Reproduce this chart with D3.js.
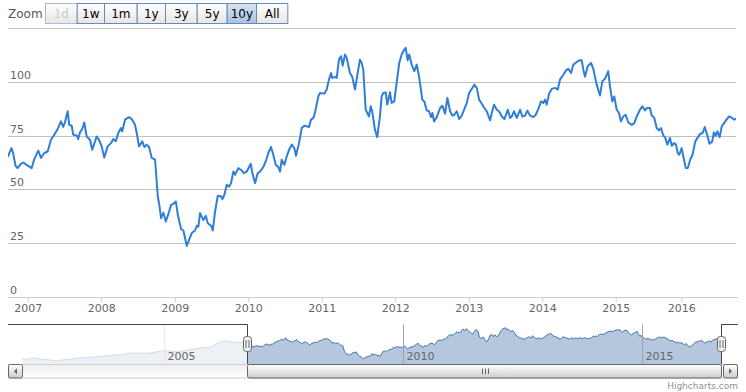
<!DOCTYPE html>
<html><head><meta charset="utf-8">
<script src="https://cdn.jsdelivr.net/npm/d3@7"></script>
<style>
body{margin:0;background:#fff}
svg{display:block;font-family:"DejaVu Sans",Verdana,Arial,sans-serif}
</style>
</head><body>
<svg id="chart" width="746" height="392"></svg>
<script>
// ---------------- DATA ----------------
const rangeButtons = ["1d","1w","1m","1y","3y","5y","10y","All"];
const selectedButton = "10y";
const disabledButtons = ["1d"];
const yTicks = [0,25,50,75,100,125];
const xTickYears = [2007,2008,2009,2010,2011,2012,2013,2014,2015,2016];
const navTickYears = [2005,2010,2015];

// main (selected 10y) series: decimal years and values
const dates = [
2006.736,2006.782,2006.804,2006.837,2006.864,2006.909,2006.940,2006.986,2007.054,2007.090,
2007.144,2007.181,2007.226,2007.272,2007.317,2007.362,2007.408,2007.453,2007.484,2007.507,
2007.544,2007.566,2007.599,2007.620,2007.667,2007.688,2007.712,2007.743,2007.770,2007.803,
2007.848,2007.879,2007.939,2007.974,2008.007,2008.042,2008.088,2008.133,2008.165,2008.197,
2008.233,2008.269,2008.287,2008.324,2008.378,2008.415,2008.460,2008.483,2008.514,2008.559,
2008.586,2008.619,2008.650,2008.687,2008.732,2008.769,2008.786,2008.814,2008.845,2008.878,
2008.913,2008.950,2008.981,2009.014,2009.041,2009.086,2009.117,2009.163,2009.194,2009.231,
2009.276,2009.299,2009.321,2009.344,2009.389,2009.422,2009.449,2009.494,2009.517,2009.548,
2009.585,2009.630,2009.648,2009.675,2009.707,2009.739,2009.766,2009.797,2009.820,2009.865,
2009.912,2009.939,2009.980,2010.034,2010.056,2010.093,2010.129,2010.161,2010.205,2010.238,
2010.273,2010.310,2010.341,2010.374,2010.410,2010.433,2010.456,2010.491,2010.524,2010.555,
2010.592,2010.627,2010.650,2010.691,2010.728,2010.763,2010.796,2010.827,2010.854,2010.886,
2010.909,2010.954,2010.977,2011.035,2011.068,2011.099,2011.127,2011.144,2011.181,2011.204,
2011.235,2011.263,2011.286,2011.317,2011.340,2011.385,2011.416,2011.453,2011.498,2011.521,
2011.544,2011.566,2011.599,2011.644,2011.667,2011.688,2011.725,2011.756,2011.793,2011.816,
2011.838,2011.871,2011.893,2011.929,2011.952,2011.988,2012.020,2012.056,2012.088,2012.124,
2012.143,2012.170,2012.191,2012.224,2012.260,2012.293,2012.324,2012.369,2012.396,2012.429,
2012.460,2012.488,2012.505,2012.528,2012.565,2012.610,2012.641,2012.678,2012.709,2012.746,
2012.777,2012.804,2012.837,2012.868,2012.905,2012.940,2012.973,2013.004,2013.041,2013.076,
2013.109,2013.140,2013.177,2013.212,2013.245,2013.290,2013.313,2013.344,2013.381,2013.412,
2013.449,2013.484,2013.531,2013.562,2013.585,2013.616,2013.653,2013.698,2013.729,2013.766,
2013.797,2013.834,2013.879,2013.912,2013.947,2013.984,2014.015,2014.038,2014.061,2014.093,
2014.129,2014.174,2014.211,2014.242,2014.287,2014.324,2014.355,2014.392,2014.423,2014.456,
2014.483,2014.514,2014.537,2014.559,2014.582,2014.619,2014.664,2014.695,2014.741,2014.786,
2014.818,2014.854,2014.899,2014.922,2014.954,2014.981,2015.015,2015.050,2015.081,2015.116,
2015.152,2015.192,2015.244,2015.284,2015.320,2015.370,2015.405,2015.447,2015.473,2015.523,
2015.549,2015.588,2015.625,2015.660,2015.691,2015.726,2015.752,2015.787,2015.828,2015.854,
2015.889,2015.919,2015.945,2015.970,2016.006,2016.030,2016.067,2016.098,2016.133,2016.168,
2016.209,2016.250,2016.285,2016.320,2016.351,2016.387,2016.422,2016.463,2016.488,2016.514,
2016.540,2016.575,2016.605,2016.640,2016.677,2016.716,2016.758,2016.793,2016.819
];
const values = [
65.3,69.2,66.9,61.0,59.9,61.9,62.5,61.4,59.9,64.1,
68.0,64.6,66.9,67.6,73.1,75.4,78.1,81.6,79.0,81.1,
86.3,80.0,79.6,75.4,75.1,73.4,76.5,78.1,81.1,74.6,
73.1,68.4,74.6,72.8,70.0,64.8,70.0,71.5,73.4,72.3,
76.2,78.5,77.0,82.4,83.6,82.7,80.0,76.2,70.0,72.3,
69.7,70.8,69.7,64.6,63.8,46.7,43.6,36.6,39.2,35.1,
38.6,42.8,43.3,44.4,38.2,31.5,30.9,23.7,26.5,29.7,
30.9,33.1,32.7,39.0,35.8,37.7,34.3,33.1,30.9,39.7,
47.0,46.7,45.5,47.5,52.1,51.3,52.9,58.3,56.8,59.9,
58.8,57.6,58.3,61.9,57.6,52.9,57.6,58.3,60.4,63.0,
66.9,69.7,66.1,61.4,60.4,58.3,63.8,61.4,65.3,68.4,
70.8,69.2,65.6,71.5,78.5,79.6,79.3,79.0,82.4,83.2,
85.8,93.2,94.8,94.5,96.4,101.0,104.1,101.8,102.3,101.8,
110.3,111.9,107.5,112.7,111.1,104.1,102.3,96.4,105.7,110.3,
108.8,105.7,87.0,83.9,88.6,86.3,77.7,74.3,83.9,93.2,
94.8,95.1,89.4,95.1,90.2,90.9,99.5,108.8,112.7,115.0,
115.8,110.0,112.7,108.0,104.9,108.0,102.6,91.7,90.9,86.7,
86.3,83.6,85.5,81.6,83.6,87.8,88.9,85.2,92.5,86.3,
84.3,84.7,86.3,82.7,84.3,87.4,90.2,94.8,96.7,98.7,
97.2,91.7,89.8,87.8,86.3,82.1,85.5,89.4,87.0,86.3,
83.9,82.7,87.0,83.2,83.9,86.3,83.2,87.0,83.9,84.3,
86.6,84.3,83.6,84.7,87.4,90.9,90.2,91.7,89.4,94.5,
96.7,97.2,96.4,101.0,103.3,105.3,106.0,104.1,108.0,108.8,
109.6,110.0,110.0,105.7,102.3,107.2,108.8,106.0,98.7,93.6,
100.3,101.4,104.9,97.9,90.9,93.2,87.0,85.5,81.6,83.9,
84.7,81.1,80.0,80.8,83.9,87.0,88.6,86.7,87.8,87.8,
84.3,83.2,78.5,77.4,78.5,74.9,74.3,70.8,73.9,70.3,
71.5,70.8,66.9,66.1,69.2,65.3,59.9,59.9,63.8,66.1,
72.3,74.3,75.9,76.2,79.0,75.4,71.2,72.3,76.5,74.9,
77.0,74.3,79.3,80.8,82.4,83.9,83.2,82.4,82.7
];

// earlier history, only visible in the navigator
const historyDates = [2002.02,2002.13,2002.26,2002.47,2002.75,2002.96,2003.24,2003.52,2003.80,2004.08,
  2004.36,2004.64,2004.92,2005.06,2005.27,2005.47,2005.75,2005.96,2006.17,2006.31,2006.45,2006.59];
const historyValues = [24.6,22.5,26.7,22.5,18.6,22.5,26.7,29.6,32.6,36.5,
  41.5,40.3,46.3,48.4,44.5,49.2,56.4,58.2,74.2,78.1,72.1,74.2];

// ---------------- LAYOUT ----------------
const plot = {left:8, right:736, top:28, bottom:297};
const xAnchorYears = [2007, 2015, 2016];       // ordinal-axis anchors
const xAnchorPx = [27.7, 615.7, 681.3];
const nav = {left:22, right:722, top:324.5, bottom:364};
const navAnchorYear = 2015, navAnchorPx = 642;
const scroll = {left:8, right:738, top:364.5, height:13.5, btn:14};
const buttonEdges = [45,76.7,104,136.7,165,196.7,226.7,256,287.3];

const toDate = t => {
  const y = Math.floor(t), s = Date.UTC(y,0,1), e = Date.UTC(y+1,0,1);
  return new Date(s + (t - y) * (e - s));
};
const yearDate = y => new Date(Date.UTC(y,0,1));

const svg = d3.select("#chart");
const defs = svg.append("defs");
function vgrad(id, stops){
  const g = defs.append("linearGradient").attr("id",id).attr("x1",0).attr("y1",0).attr("x2",0).attr("y2",1);
  stops.forEach(([o,c])=>g.append("stop").attr("offset",o).attr("stop-color",c));
}
vgrad("btnGrad",[[0,"#ffffff"],[1,"#e6e6e6"]]);
vgrad("btnSel",[[0,"#d8e4f4"],[1,"#a9c1e4"]]);
vgrad("trackGrad",[[0,"#eeeeee"],[1,"#ffffff"]]);
vgrad("barGrad",[[0,"#ffffff"],[1,"#cccccc"]]);

// ---------------- SCALES ----------------
const mainData = dates.map((t,i)=>({d:toDate(t), v:values[i]}));
const historyData = historyDates.map((t,i)=>({d:toDate(t), v:historyValues[i]}));
const allData = historyData.concat(mainData);

const x = d3.scaleUtc()
  .domain([mainData[0].d, ...xAnchorYears.map(yearDate), mainData[mainData.length-1].d])
  .range([plot.left, ...xAnchorPx, plot.right]);
const y = d3.scaleLinear().domain([0,125]).range([plot.bottom, plot.top]);

// ---------------- RANGE SELECTOR ----------------
svg.append("text").attr("x",8).attr("y",18).attr("font-size",12).attr("fill","#555").text("Zoom");
rangeButtons.forEach((b,i)=>{
  const x0 = buttonEdges[i], x1 = buttonEdges[i+1];
  const sel = b === selectedButton, dis = disabledButtons.includes(b);
  svg.append("rect").attr("x",x0+0.5).attr("y",3.5).attr("width",x1-x0).attr("height",20)
    .attr("fill", sel ? "url(#btnSel)" : "url(#btnGrad)").attr("stroke", dis ? "#a8bbd8" : "#6a89b6").attr("stroke-width",1);
  svg.append("text").attr("x",(x0+x1)/2+0.5).attr("y",18).attr("text-anchor","middle")
    .attr("font-size",12).attr("fill", dis ? "#cccccc" : "#000").text(b);
});

// ---------------- MAIN PLOT ----------------
const grid = svg.append("g");
yTicks.filter(v=>v>0).forEach(v=>{
  grid.append("line").attr("x1",plot.left).attr("x2",plot.right)
    .attr("y1",Math.round(y(v))+0.5).attr("y2",Math.round(y(v))+0.5)
    .attr("stroke","#C0C0C0").attr("stroke-width",1);
});
yTicks.filter(v=>v<125).forEach(v=>{
  svg.append("text").attr("x",10).attr("y",y(v)-3).attr("font-size",11).attr("fill","#666").text(v);
});

const xAxis = svg.append("g").attr("transform",`translate(0,${Math.round(plot.bottom)+0.5})`)
  .call(d3.axisBottom(x).tickValues(xTickYears.map(yearDate)).tickFormat(d3.utcFormat("%Y"))
    .tickSizeInner(5).tickSizeOuter(0).tickPadding(2));
xAxis.select(".domain").attr("stroke","#C0D0E0").attr("d",`M${plot.left},0H${plot.right+2}`);
xAxis.selectAll(".tick line").attr("stroke","#C0D0E0");
xAxis.selectAll(".tick text").attr("fill","#666").attr("font-size",11).attr("font-family","DejaVu Sans, Verdana, sans-serif");

defs.append("clipPath").attr("id","plotClip").append("rect")
  .attr("x",plot.left).attr("y",plot.top-5).attr("width",plot.right-plot.left).attr("height",plot.bottom-plot.top+5);
svg.append("path").datum(mainData).attr("clip-path","url(#plotClip)")
  .attr("fill","none").attr("stroke","#2f7ed8").attr("stroke-width",2)
  .attr("stroke-linejoin","round").attr("stroke-linecap","round")
  .attr("d", d3.line().x(d=>x(d.d)).y(d=>y(d.v)));

// ---------------- NAVIGATOR ----------------
const nx = d3.scaleUtc()
  .domain([allData[0].d, yearDate(navAnchorYear), allData[allData.length-1].d])
  .range([nav.left, navAnchorPx, nav.right]);
const vmin = d3.min(allData,d=>d.v), vmax = d3.max(allData,d=>d.v), pad = (vmax-vmin)*0.1;
const ny = d3.scaleLinear().domain([vmin-pad, vmax+pad]).range([nav.bottom, nav.top]);

const navG = svg.append("g");
navG.append("path").datum(allData).attr("fill","#4572A7").attr("fill-opacity",0.4)
  .attr("d", d3.area().x(d=>nx(d.d)).y0(nav.bottom).y1(d=>ny(d.v)));
navG.append("path").datum(allData).attr("fill","none").attr("stroke","#4572A7").attr("stroke-width",1)
  .attr("d", d3.line().x(d=>nx(d.d)).y(d=>ny(d.v)));
navTickYears.forEach(yr=>{
  const px = Math.round(nx(yearDate(yr)))+0.5;
  navG.append("line").attr("x1",px).attr("x2",px).attr("y1",nav.top).attr("y2",nav.bottom)
    .attr("stroke","#9aa5b3").attr("stroke-width",1);
});
const hL = Math.round(nx(mainData[0].d))+0.5, hR = Math.round(nx(mainData[mainData.length-1].d))-0.5;
// mask over unselected range
navG.append("rect").attr("x",nav.left-1).attr("y",nav.top).attr("width",hL-nav.left+1).attr("height",nav.bottom-nav.top)
  .attr("fill","#fff").attr("fill-opacity",0.75);
navG.append("rect").attr("x",hR).attr("y",nav.top).attr("width",Math.max(0,nav.right-hR)).attr("height",nav.bottom-nav.top)
  .attr("fill","#fff").attr("fill-opacity",0.75);
navTickYears.forEach(yr=>{
  const px = Math.round(nx(yearDate(yr)))+0.5;
  navG.append("text").attr("x",px+3).attr("y",nav.bottom-4).attr("font-size",11).attr("fill","#666").text(yr);
});
// outline
navG.append("path").attr("fill","none").attr("stroke","#444").attr("stroke-width",1)
  .attr("d",`M${plot.left},${nav.top}H${hL}V${nav.bottom}M${hR},${nav.bottom}V${nav.top}H${scroll.right}`);

// ---------------- SCROLLBAR ----------------
const sb = svg.append("g");
sb.append("rect").attr("x",scroll.left+0.5).attr("y",scroll.top).attr("width",scroll.right-scroll.left-1).attr("height",scroll.height)
  .attr("fill","url(#trackGrad)").attr("stroke","#cccccc");
sb.append("rect").attr("x",hL).attr("y",scroll.top).attr("width",hR-hL).attr("height",scroll.height)
  .attr("rx",2).attr("fill","url(#barGrad)").attr("stroke","#666");
const mid = Math.round((hL+hR)/2)+0.5;
[-3,0,3].forEach(o=>sb.append("line").attr("x1",mid+o).attr("x2",mid+o)
  .attr("y1",scroll.top+4).attr("y2",scroll.top+scroll.height-4).attr("stroke","#666"));
[[scroll.left+0.5,-1],[scroll.right-scroll.btn-0.5,1]].forEach(([bx,dir])=>{
  sb.append("rect").attr("x",bx).attr("y",scroll.top).attr("width",scroll.btn).attr("height",scroll.height)
    .attr("rx",2).attr("fill","url(#barGrad)").attr("stroke","#666");
  const cx = bx+scroll.btn/2, cy = scroll.top+scroll.height/2;
  sb.append("path").attr("fill","#666")
    .attr("d", dir<0 ? `M${cx+1.5},${cy-3}L${cx-1.5},${cy}L${cx+1.5},${cy+3}Z` : `M${cx-1.5},${cy-3}L${cx+1.5},${cy}L${cx-1.5},${cy+3}Z`);
});

// handles
[hL,hR].forEach(hx=>{
  const g = navG.append("g");
  g.append("rect").attr("x",hx-4).attr("y",336.5).attr("width",8).attr("height",15).attr("rx",3)
    .attr("fill","#f2f2f2").attr("stroke","#666");
  [-1.5,1.5].forEach(o=>g.append("line").attr("x1",hx+o).attr("x2",hx+o).attr("y1",340).attr("y2",348).attr("stroke","#666"));
});

// credits
svg.append("text").attr("x",738).attr("y",389).attr("text-anchor","end").attr("font-size",9).attr("fill","#909090").text("Highcharts.com");
</script>
</body></html>
